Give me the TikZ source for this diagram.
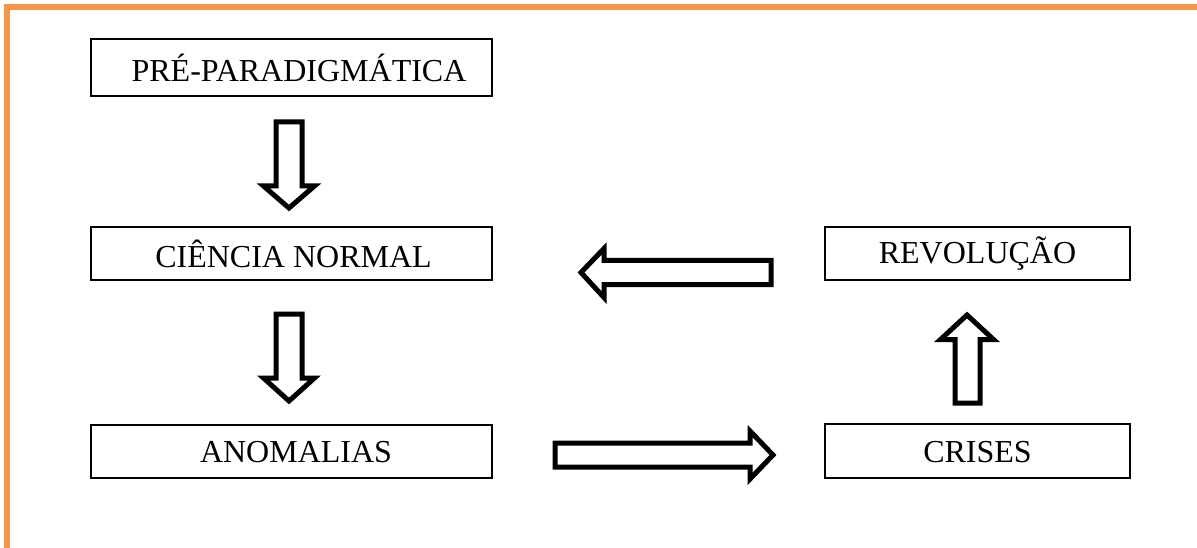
\documentclass[tikz,border=0pt]{standalone}
\usepackage{fontspec}
\setmainfont{Liberation Serif}
\definecolor{frameorange}{HTML}{F79646}
\begin{document}
\begin{tikzpicture}[x=1pt,y=-1pt,
  stagebox/.style={draw=black, line width=1.4pt, fill=white, inner sep=0pt},
  stagetext/.style={font=\fontsize{32}{38}\selectfont, inner sep=0pt, anchor=center},
  blockarrow/.style={draw=black, line width=5pt, fill=white, line join=miter, miter limit=10}]
  \useasboundingbox (0,0) rectangle (1197,548);
  \begin{scope}
    \clip (0,0) rectangle (1197,548);
    % outer frame
    \draw[frameorange, line width=6pt] (7,7.5) rectangle (1199.5,620);
  \end{scope}

  % stage boxes
  \draw[stagebox] (91,39) rectangle (492,96);
  \draw[stagebox] (91,227) rectangle (492,280);
  \draw[stagebox] (91,425) rectangle (492,478);
  \draw[stagebox] (825,227) rectangle (1130,280);
  \draw[stagebox] (825,424) rectangle (1130,478);

  \node[stagetext] (pre) at (299,68) {PRÉ-PARADIGMÁTICA};
  \node[stagetext] (normal) at (293.5,254) {CIÊNCIA NORMAL};
  \node[stagetext] (anom) at (296,452) {ANOMALIAS};
  \node[stagetext] (rev) at (977.5,254) {REVOLUÇÃO};
  \node[stagetext] (crises) at (977.5,452) {CRISES};

  % block arrows
  \draw[blockarrow] (276,122) -- (302,122) -- (302,186) -- (314.5,186) -- (289,208)
    -- (263.5,186) -- (276,186) -- cycle;
  \draw[blockarrow] (276,314) -- (302,314) -- (302,378) -- (314.5,378) -- (289,401)
    -- (263.5,378) -- (276,378) -- cycle;
  \draw[blockarrow] (771,260.5) -- (604,260.5) -- (604,248.5) -- (581,272.5)
    -- (604,297.5) -- (604,284.5) -- (771,284.5) -- cycle;
  \draw[blockarrow] (555,443) -- (750,443) -- (750,431) -- (773,455)
    -- (750,479) -- (750,467) -- (555,467) -- cycle;
  \draw[blockarrow] (955,403) -- (955,339.5) -- (940.5,339.5) -- (967,315)
    -- (993.5,339.5) -- (980,339.5) -- (980,403) -- cycle;
\end{tikzpicture}
\end{document}
